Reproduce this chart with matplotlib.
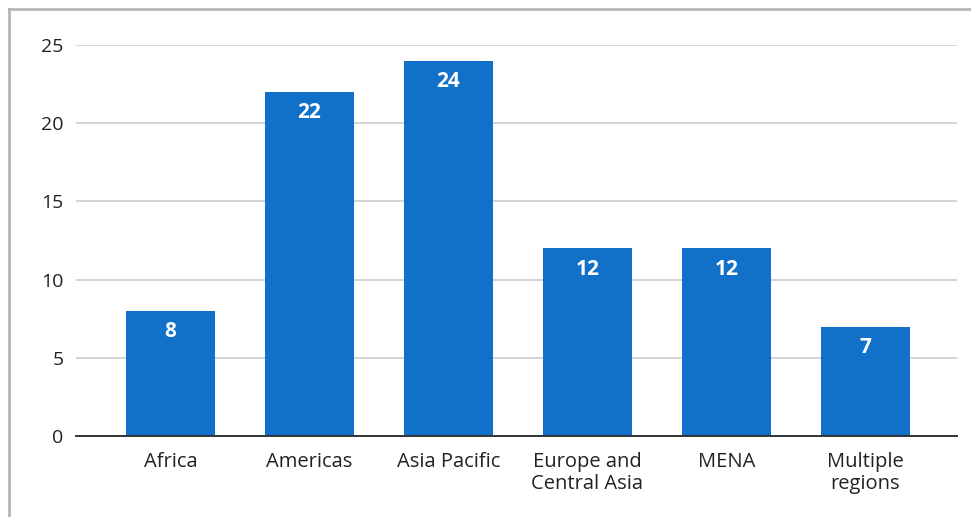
import matplotlib
matplotlib.use("Agg")
import matplotlib.pyplot as plt
from matplotlib.lines import Line2D

categories = ["Africa", "Americas", "Asia Pacific", "Europe and\nCentral Asia", "MENA", "Multiple\nregions"]
values = [8, 22, 24, 12, 12, 7]
yticks = [0, 5, 10, 15, 20, 25]

plt.rcParams['font.family'] = ['Open Sans', 'DejaVu Sans']

W, H = 971, 517
fig = plt.figure(figsize=(W / 100, H / 100), dpi=100)
ax = fig.add_axes([76 / W, (H - 436) / H, (957 - 76) / W, (436 - 45) / H])

x = list(range(len(categories)))
bars = ax.bar(x, values, width=0.64, color="#1170C7", zorder=3)

for xi, v in zip(x, values):
    ax.annotate(str(v), (xi, v), xytext=(0, -15), textcoords="offset points",
                ha="center", va="center", color="white", fontsize=15, fontweight="bold", zorder=4)

ax.set_xlim(-0.68, 5.66)
ax.set_ylim(0, 25)
ax.set_yticks(yticks)
ax.set_xticks(x)
ax.set_xticklabels(categories, fontsize=14.5, color="#222222", linespacing=1.15)
ax.tick_params(axis="y", length=0, pad=9, labelsize=14, labelcolor="#222222")
ax.tick_params(axis="x", length=0, pad=11.5)
ax.grid(axis="y", color="#d4d4d4", linewidth=1.4, zorder=0)
ax.set_axisbelow(True)
for s in ["top", "right", "left"]:
    ax.spines[s].set_visible(False)
ax.spines["bottom"].set_color("#333333")
ax.spines["bottom"].set_linewidth(1.4)
ax.spines["bottom"].set_zorder(5)

# figure border (left and top)
fig.add_artist(Line2D([8.5 / W, 8.5 / W], [0, 1 - 8.5 / H], transform=fig.transFigure, color="#b5b5b5", linewidth=2))
fig.add_artist(Line2D([8.5 / W, 1], [1 - 8.5 / H, 1 - 8.5 / H], transform=fig.transFigure, color="#b5b5b5", linewidth=2))

fig.savefig("out.png", dpi=100)
